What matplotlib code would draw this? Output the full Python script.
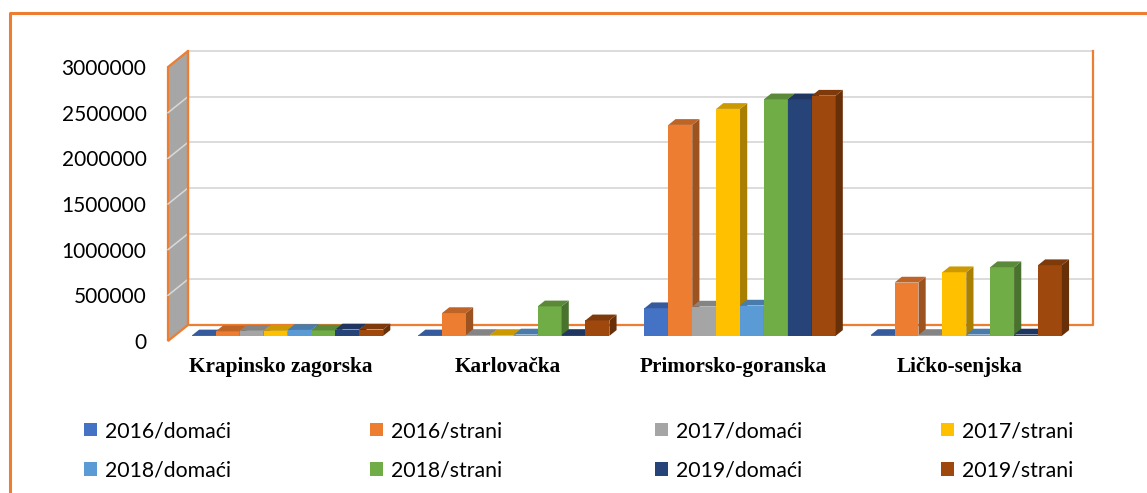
import matplotlib.pyplot as plt
import numpy as np
from matplotlib.collections import PolyCollection
from matplotlib.lines import Line2D
from matplotlib.patches import Patch, Polygon

categories = ["Krapinsko zagorska", "Karlovačka", "Primorsko-goranska", "Ličko-senjska"]
series = ["2016/domaći", "2016/strani", "2017/domaći", "2017/strani",
          "2018/domaći", "2018/strani", "2019/domaći", "2019/strani"]
values = [
    [5000, 5000, 303000, 10000],          # 2016/domaći
    [50000, 250000, 2310000, 584000],     # 2016/strani
    [55000, 10000, 321000, 10000],        # 2017/domaći
    [55000, 10000, 2485000, 697000],      # 2017/strani
    [65000, 15000, 332000, 15000],        # 2018/domaći
    [60000, 323000, 2590000, 752000],     # 2018/strani
    [70000, 10000, 2590000, 15000],       # 2019/domaći
    [70000, 170000, 2630000, 774000],     # 2019/strani
]
yticks = [0, 500000, 1000000, 1500000, 2000000, 2500000, 3000000]

colors = ["#4472C4", "#ED7D31", "#A5A5A5", "#FFC000",
          "#5B9BD5", "#70AD47", "#264478", "#9E480E"]
ORANGE = "#ED7D31"
GRID = "#D9D9D9"

W, H = 1147, 493
fig = plt.figure(figsize=(W / 100, H / 100), dpi=100)
ax = fig.add_axes([168 / W, 152 / H, 905 / W, 274 / H])
ax.set_xlim(-0.5, 3.5)
ax.set_ylim(0, 3e6)
for s in ax.spines.values():
    s.set_visible(False)

# pixel -> data conversion for the fake 3d depth
px_x = 905 / 4
px_y = 274 / 3e6


def shift(px, py):
    return px / px_x, py / px_y


wx, wy = shift(20, 16)          # wall depth
fx, fy = shift(6.4, 5.1)        # bar front plane
bx, by = shift(7.2, 5.8)        # bar depth

x0, x1 = ax.get_xlim()
top = yticks[-1]

# left wall
ax.add_patch(Polygon([(x0, 0), (x0, top), (x0 + wx, top + wy), (x0 + wx, wy)],
                     closed=True, facecolor="#A6A6A6", edgecolor=ORANGE,
                     lw=1.6, zorder=1, clip_on=False))
for t in yticks[1:-1]:
    ax.plot([x0, x0 + wx], [t, t + wy], color=GRID, lw=1.1, zorder=1.1,
            clip_on=False)

# back wall gridlines and border
for t in yticks[1:]:
    ax.plot([x0 + wx, x1 + wx], [t + wy, t + wy], color=GRID, lw=1.3,
            zorder=1, clip_on=False)
ax.plot([x0 + wx, x0 + wx, x1 + wx, x1 + wx], [top + wy, wy, wy, top + wy],
        color=ORANGE, lw=1.6, zorder=1.2, clip_on=False)


def shade(c, f):
    r, g, b = plt.matplotlib.colors.to_rgb(c)
    return (r * f, g * f, b * f)


n = len(series)
group_w = 0.845
bw = group_w / n
cat_x = np.arange(len(categories))
for j, (name, vals) in enumerate(zip(series, values)):
    lefts = cat_x - group_w / 2 + j * bw + fx
    bars = ax.bar(lefts, vals, width=bw, bottom=fy, align="edge",
                  color=colors[j], lw=0, zorder=3 + j)
    sides, tops = [], []
    for r in bars:
        xa, ya, w, h = r.get_x(), r.get_y(), r.get_width(), r.get_height()
        sides.append([(xa + w, ya), (xa + w + bx, ya + by),
                      (xa + w + bx, ya + h + by), (xa + w, ya + h)])
        tops.append([(xa, ya + h), (xa + w, ya + h),
                     (xa + w + bx, ya + h + by), (xa + bx, ya + h + by)])
    ax.add_collection(PolyCollection(sides, facecolors=shade(colors[j], 0.66),
                                     lw=0, zorder=3 + j))
    ax.add_collection(PolyCollection(tops, facecolors=shade(colors[j], 0.8),
                                     lw=0, zorder=3 + j))

ax.set_yticks(yticks)
ax.set_yticklabels([str(t) for t in yticks], fontfamily="Lato", fontsize=15)
ax.tick_params(axis="y", length=0, pad=15.5)
ax.set_xticks(cat_x)
ax.set_xticklabels(categories, fontfamily="Liberation Serif",
                   fontweight="bold", fontsize=15.3)
ax.tick_params(axis="x", length=0, pad=11.5)

# legend: 4 equally spaced columns
col_x = [84, 370, 655, 941]
for c, xc in enumerate(col_x):
    idx = [c, c + 4]
    handles = [Patch(facecolor=colors[i], edgecolor="none") for i in idx]
    fig.legend(handles, [series[i] for i in idx], loc="upper left",
               bbox_to_anchor=(xc / W, 1 - 421 / H), frameon=False,
               borderpad=0, borderaxespad=0, handlelength=0.62,
               handleheight=0.62, handletextpad=0.35, labelspacing=0.9,
               prop={"family": "Lato", "size": 15.3})

# outer frame (only left and top edges are visible)
fig.add_artist(Line2D([10 / W, 10 / W, 1.0], [0, 1 - 13 / H, 1 - 13 / H],
                      transform=fig.transFigure, color=ORANGE, lw=2.2))

fig.savefig("out.png", dpi=100)
